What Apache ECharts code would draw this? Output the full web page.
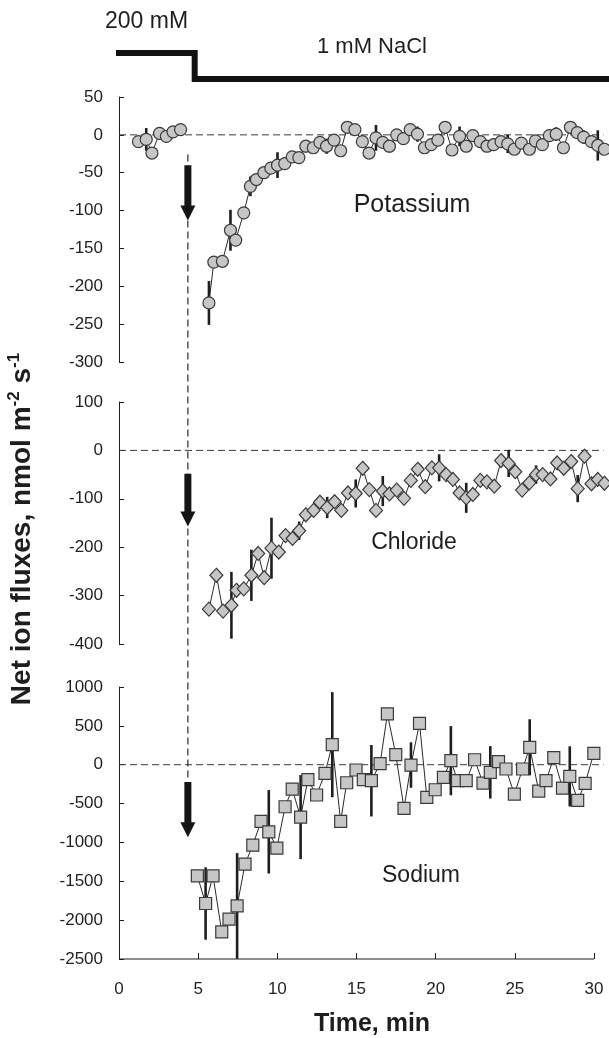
<!DOCTYPE html>
<html>
<head>
<meta charset="utf-8">
<script src="https://cdn.jsdelivr.net/npm/echarts@6/dist/echarts.min.js"></script>
<style>
  html, body { margin: 0; padding: 0; background: #fff; }
  #chart { width: 609px; height: 1038px; }
</style>
</head>
<body>
<div id="chart"></div>
<script>
// bath solution: 200 mM -> 1 mM NaCl (level 1 = 200 mM, 0 = 1 mM)
const stepTime = [-0.28, 4.78, 4.78, 31.2];
const stepLevel = [1, 1, 0, 0];
const zeroTime = [0, 30.6];
const shiftTime = 4.35;
const timeTicks = [0, 5, 10, 15, 20, 25, 30];
const timeMax = 31.2;

// Potassium, before the shift
const kPreTime = [1.23, 1.72, 2.08, 2.56, 2.99, 3.41, 3.89];
const kPreFlux = [-9, -6, -24, 2, -2, 4, 7];
const kPreErr = [0, 15, 0, 0, 8, 0, 0];

// Potassium, after the shift
const kTime = [5.68, 5.99, 6.53, 7.04, 7.37, 7.88, 8.30, 8.68, 9.15, 9.59,
  10.01, 10.47, 10.94, 11.36, 11.80, 12.27, 12.69, 13.11, 13.58, 14.00,
  14.42, 14.90, 15.37, 15.79, 16.23, 16.66, 17.08, 17.54, 17.96, 18.39,
  18.85, 19.29, 19.72, 20.14, 20.60, 21.03, 21.51, 21.93, 22.35, 22.82,
  23.24, 23.66, 24.13, 24.55, 24.97, 25.41, 25.92, 26.30, 26.74, 27.18,
  27.61, 28.07, 28.51, 28.94, 29.35, 29.84, 30.24, 30.66];
const kFlux = [-222, -168, -167, -126, -139, -103, -68, -59, -50, -44,
  -40, -38, -29, -30, -15, -17, -10, -15, -7, -21,
  10, 7, -9, -24, -4, -10, -15, 0, -5, 7,
  1, -17, -13, -7, 10, -20, -2, -15, -1, -9,
  -15, -13, -9, -12, -19, -11, -19, -8, -13, -1,
  1, -17, 10, 3, -3, -9, -14, -19];
const kErr = [29, 0, 0, 27, 0, 0, 13, 0, 0, 0,
  17, 0, 0, 0, 8, 0, 0, 10, 0, 0,
  0, 0, 0, 0, 17, 0, 8, 0, 0, 0,
  10, 0, 0, 0, 0, 0, 13, 0, 0, 0,
  0, 8, 0, 12, 0, 0, 7, 0, 0, 0,
  9, 0, 0, 0, 9, 0, 20, 0];

// Chloride
const clTime = [5.68, 6.15, 6.57, 7.10, 7.42, 7.88, 8.36, 8.79, 9.17, 9.63,
  10.09, 10.52, 10.96, 11.38, 11.80, 12.29, 12.69, 13.15, 13.62, 14.04,
  14.46, 14.95, 15.39, 15.81, 16.23, 16.66, 17.08, 17.54, 18.00, 18.43,
  18.87, 19.34, 19.76, 20.22, 20.66, 21.09, 21.51, 21.93, 22.35, 22.82,
  23.24, 23.70, 24.13, 24.61, 25.03, 25.46, 25.92, 26.34, 26.76, 27.25,
  27.67, 28.09, 28.56, 28.97, 29.40, 29.84, 30.24, 30.66];
const clFlux = [-328, -258, -332, -320, -289, -286, -258, -213, -263, -202,
  -210, -176, -182, -166, -133, -124, -107, -118, -106, -124,
  -88, -89, -37, -81, -124, -84, -90, -82, -99, -62,
  -39, -75, -36, -36, -50, -60, -88, -98, -91, -62,
  -65, -74, -21, -27, -44, -82, -67, -50, -50, -59,
  -26, -37, -23, -79, -12, -69, -60, -68];
const clErr = [0, 0, 0, 69, 0, 0, 53, 0, 0, 63,
  0, 0, 0, 19, 0, 0, 0, 22, 0, 0,
  0, 29, 0, 0, 0, 31, 0, 0, 0, 0,
  0, 0, 0, 28, 0, 0, 0, 31, 0, 0,
  0, 0, 0, 28, 0, 0, 0, 19, 0, 0,
  0, 0, 0, 28, 0, 0, 0, 0];

// Sodium
const naTime = [4.95, 5.47, 5.94, 6.49, 6.95, 7.46, 7.96, 8.45, 8.97, 9.46,
  9.97, 10.49, 10.94, 11.47, 11.93, 12.48, 13.01, 13.47, 14.00, 14.38,
  14.97, 15.43, 15.94, 16.49, 16.95, 17.48, 18.00, 18.44, 18.98, 19.44,
  19.97, 20.49, 20.96, 21.38, 21.93, 22.46, 22.99, 23.45, 23.97, 24.44,
  24.97, 25.49, 25.94, 26.51, 26.97, 27.46, 28.01, 28.47, 28.97, 29.44,
  29.99];
const naFlux = [-1430, -1786, -1430, -2152, -1988, -1817, -1280, -1035, -730, -863,
  -1073, -541, -313, -674, -193, -390, -111, 258, -730, -232,
  -68, -193, -206, 13, 653, 129, -562, -4, 533, -420,
  -322, -162, 52, -206, -206, 64, -236, -98, 39, -55,
  -378, -55, 224, -339, -206, 90, -300, -150, -459, -240,
  147];
const naErr = [0, 466, 0, 0, 0, 680, 0, 0, 0, 537,
  0, 0, 0, 541, 0, 0, 0, 676, 0, 0,
  0, 0, 460, 0, 0, 0, 0, 292, 0, 0,
  0, 0, 445, 0, 0, 0, 0, 337, 0, 0,
  0, 0, 361, 0, 0, 0, 0, 387, 0, 0,
  0];

// y axis ranges of the three panels: [min, max, interval]
const kRange = [-300, 50, 50];
const clRange = [-400, 100, 100];
const naRange = [-2500, 1000, 500];

// arrows: [top, tip] in each panel's units
const kArrow = [-40, -113];
const clArrow = [-48, -157];
const naArrow = [-223, -932];

const FONT = '"Liberation Sans", Arial, Helvetica, sans-serif';
const INK = '#1e1e1e';

const pairs = (xs, ys) => xs.map((x, i) => [x, ys[i]]);

const chart = echarts.init(document.getElementById('chart'), null, { renderer: 'canvas' });

function fluxSeries(idx, xs, ys, symbol, size) {
  return {
    type: 'line', xAxisIndex: idx, yAxisIndex: idx, z: 3, clip: false,
    data: pairs(xs, ys),
    symbol: symbol, symbolSize: size, showSymbol: true, showAllSymbol: true,
    lineStyle: { color: '#2a2a2a', width: 1 },
    itemStyle: { color: '#c6c6c6', borderColor: '#3a3a3a', borderWidth: 1.2 },
    emphasis: { disabled: true }
  };
}

function errorSeries(idx, xs, ys, es) {
  const data = [];
  xs.forEach((x, i) => { if (es[i] > 0) data.push([x, ys[i] - es[i], ys[i] + es[i]]); });
  return {
    type: 'custom', xAxisIndex: idx, yAxisIndex: idx, z: 2, clip: false,
    data: data,
    encode: { x: 0, y: [1, 2] },
    renderItem: (params, api) => {
      const lo = api.coord([api.value(0), api.value(1)]);
      const hi = api.coord([api.value(0), api.value(2)]);
      return {
        type: 'line',
        shape: { x1: lo[0], y1: lo[1], x2: hi[0], y2: hi[1] },
        style: { stroke: INK, lineWidth: 2.6 }
      };
    }
  };
}

function zeroSeries(idx) {
  return {
    type: 'line', xAxisIndex: idx, yAxisIndex: idx, z: 1, clip: false,
    data: zeroTime.map(t => [t, 0]), symbol: 'none',
    lineStyle: { color: '#3a3a3a', width: 1, type: [7, 4] },
    emphasis: { disabled: true }
  };
}

function yAxis(idx, range) {
  return {
    type: 'value', gridIndex: idx, min: range[0], max: range[1], interval: range[2],
    axisLine: { show: true, onZero: false, lineStyle: { color: INK, width: 1 } },
    axisTick: { show: true, inside: true, length: 5, lineStyle: { color: INK, width: 1 } },
    axisLabel: { color: INK, fontSize: 17, fontFamily: FONT, margin: 16, formatter: v => String(v) },
    splitLine: { show: false }
  };
}

function xAxis(idx) {
  return {
    type: 'value', gridIndex: idx, min: 0, max: timeMax, show: idx === 3,
    axisLine: { show: false, onZero: false },
    axisTick: { show: true, inside: true, length: 6, customValues: timeTicks,
      lineStyle: { color: INK, width: 1 } },
    axisLabel: { color: INK, fontSize: 17, fontFamily: FONT, margin: 22,
      customValues: timeTicks, formatter: v => String(v) },
    splitLine: { show: false }
  };
}

// 15.83 px per minute, 0 min at x = 119
const gridBox = { left: 119, width: 494, outerBoundsMode: 'none' };

const option = {
  animation: false,
  backgroundColor: '#fff',
  grid: [
    Object.assign({ top: 53, height: 26 }, gridBox),
    Object.assign({ top: 97, height: 265 }, gridBox),
    Object.assign({ top: 402, height: 242 }, gridBox),
    Object.assign({ top: 687, height: 272 }, gridBox)
  ],
  xAxis: [0, 1, 2, 3].map(xAxis),
  yAxis: [
    { type: 'value', gridIndex: 0, min: 0, max: 1, show: false },
    yAxis(1, kRange),
    yAxis(2, clRange),
    yAxis(3, naRange)
  ],
  series: [
    {
      type: 'line', xAxisIndex: 0, yAxisIndex: 0, clip: false, symbol: 'none',
      data: pairs(stepTime, stepLevel),
      lineStyle: { color: '#111', width: 6, join: 'miter', cap: 'butt' },
      emphasis: { disabled: true }
    },
    {
      // time axis line, from 0 to 30 min
      type: 'line', xAxisIndex: 3, yAxisIndex: 3, clip: false, symbol: 'none', z: 4,
      data: [[timeTicks[0], naRange[0]], [timeTicks[timeTicks.length - 1], naRange[0]]],
      lineStyle: { color: INK, width: 1 },
      emphasis: { disabled: true }
    },
    zeroSeries(1), zeroSeries(2), zeroSeries(3),
    errorSeries(1, kPreTime, kPreFlux, kPreErr),
    errorSeries(1, kTime, kFlux, kErr),
    errorSeries(2, clTime, clFlux, clErr),
    errorSeries(3, naTime, naFlux, naErr),
    fluxSeries(1, kPreTime, kPreFlux, 'circle', 12),
    fluxSeries(1, kTime, kFlux, 'circle', 12),
    fluxSeries(2, clTime, clFlux, 'diamond', [13, 14]),
    fluxSeries(3, naTime, naFlux, 'rect', 12)
  ]
};

chart.setOption(option);

const px = (g, p) => chart.convertToPixel({ gridIndex: g }, p);

function arrow(g, ends) {
  const top = px(g, [shiftTime, ends[0]]);
  const tip = px(g, [shiftTime, ends[1]]);
  const x = top[0];
  const hb = tip[1] - 15;
  return {
    type: 'polygon', z: 20, silent: true,
    shape: { points: [[x - 3.5, top[1]], [x + 3.5, top[1]], [x + 3.5, hb], [x + 7.5, hb],
      [x, tip[1]], [x - 7.5, hb], [x - 3.5, hb]] },
    style: { fill: '#151515' }
  };
}

function label(text, x, y, size, weight, align) {
  return {
    type: 'text', x: x, y: y, z: 20, silent: true,
    style: {
      text: text, fill: INK, font: (weight || 'normal') + ' ' + size + 'px ' + FONT,
      textAlign: align || 'center', textVerticalAlign: 'middle',
      align: align || 'center', verticalAlign: 'middle'
    }
  };
}

const vTop = px(1, [shiftTime, -26]);
const vBot = px(3, [shiftTime, -190]);

chart.setOption({
  graphic: [
    {
      type: 'line', z: 15, silent: true,
      shape: { x1: vTop[0], y1: vTop[1], x2: vBot[0], y2: vBot[1] },
      style: { stroke: '#2a2a2a', lineWidth: 1.2, lineDash: [7, 4] }
    },
    arrow(1, kArrow),
    arrow(2, clArrow),
    arrow(3, naArrow),
    label('200 mM', 105, 22, 23, 'normal', 'left'),
    label('1 mM NaCl', 317, 47, 22, 'normal', 'left'),
    label('Potassium', 412, 205, 25),
    label('Chloride', 414, 543, 23),
    label('Sodium', 421, 876, 23),
    label('Time, min', 372, 1024, 25, 'bold'),
    {
      type: 'text', x: 22, y: 529, rotation: Math.PI / 2, z: 20, silent: true,
      style: {
        text: 'Net ion fluxes, nmol m{sup|-2} s{sup|-1}',
        fill: INK, font: 'bold 28px ' + FONT,
        textAlign: 'center', textVerticalAlign: 'middle',
        align: 'center', verticalAlign: 'middle',
        lineHeight: 32,
        rich: {
          sup: { fontSize: 17, fontWeight: 'bold', fontFamily: FONT, fill: INK,
            verticalAlign: 'top', lineHeight: 18 }
        }
      }
    }
  ]
});
</script>
</body>
</html>
